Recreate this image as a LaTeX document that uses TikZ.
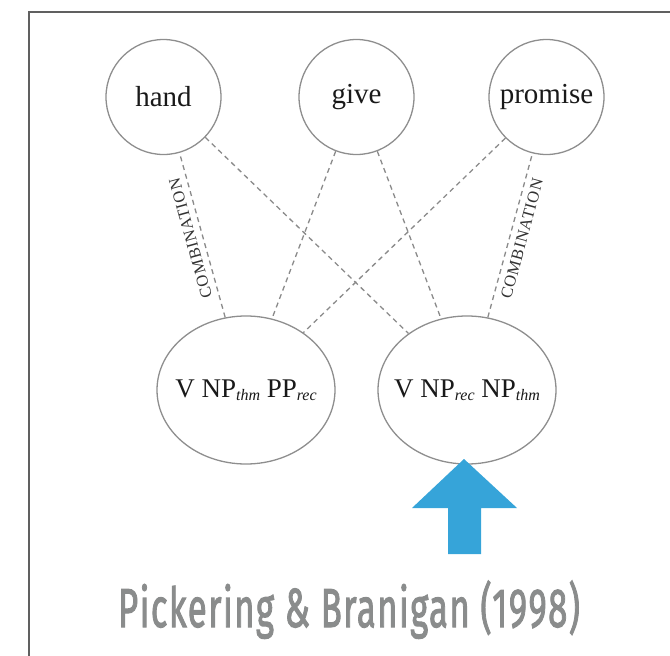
\documentclass[tikz,border=0pt]{standalone}
\usepackage{fontspec}
\usepackage{graphicx}
\setmainfont{Liberation Serif}
\newfontfamily\titlefont[FakeBold=2.2, LetterSpace=4]{Fira Sans}
\newfontfamily\combfont[LetterSpace=5]{Liberation Serif}
\usetikzlibrary{shapes.geometric}
\definecolor{framegray}{HTML}{606060}
\definecolor{linegray}{HTML}{8E8E8E}
\definecolor{dashgray}{HTML}{8A8A8A}
\definecolor{titlegray}{HTML}{8A8C8C}
\definecolor{arrowblue}{HTML}{36A4D9}
\newcommand{\sbs}[1]{\raisebox{-3pt}{\fontsize{16}{16}\selectfont\itshape #1}}
\begin{document}
\begin{tikzpicture}[x=1pt,y=-1pt,
  verb/.style={circle, draw=linegray, line width=1.3pt, minimum size=115pt, inner sep=0pt,
    font=\fontsize{29}{29}\selectfont, text=black!90},
  frame/.style={ellipse, draw=linegray, line width=1.3pt, minimum width=178pt, minimum height=148pt,
    inner sep=0pt},
  frametext/.style={font=\fontsize{27}{27}\selectfont, text=black!90, inner sep=0pt},
  link/.style={draw=dashgray, line width=1.3pt, dash pattern=on 5pt off 4pt},
  comb/.style={font=\combfont\fontsize{16.5}{16.5}\selectfont, text=black!80, inner sep=1pt}]
  \useasboundingbox (0,0) rectangle (670,656);
  % frame edges
  \draw[framegray, line width=2.6pt] (29,656) -- (29,12) -- (670,12);

  % verbs
  \node[verb] (hand) at (163.5,97) {hand};
  \node[verb] (give) at (356.5,97) {give};
  \node[verb] (promise) at (546.5,97) {promise};

  % constructions
  \node[frame, label={[frametext]center:V NP\sbs{thm} PP\sbs{rec}}] (lv) at (246,390) {};
  \node[frame, label={[frametext]center:V NP\sbs{rec} NP\sbs{thm}}] (rv) at (467,390) {};

  % links
  \draw[link] (lv.106) -- node[comb, midway, sloped, allow upside down, above=5pt] {COMBINATION} (hand.-74.5);
  \draw[link] (hand.-44.7) -- (rv.136);
  \draw[link] (give.-111) -- (lv.70);
  \draw[link] (give.-69.6) -- (rv.110);
  \draw[link] (promise.-135) -- (lv.45);
  \draw[link] (rv.74) -- node[comb, midway, sloped, allow upside down, below=5pt] {COMBINATION} (promise.-104.5);

  % pointer arrow
  \fill[arrowblue] (464,459) -- (517,508) -- (481,508) -- (481,554) -- (448,554) -- (448,508) -- (412,508) -- cycle;

  % citation
  \node[text=titlegray, inner sep=0pt, anchor=base] (cite) at (349,627)
    {\resizebox{462pt}{\height}{\titlefont\fontsize{55}{55}\selectfont Pickering \& Branigan (1998)}};
\end{tikzpicture}
\end{document}
